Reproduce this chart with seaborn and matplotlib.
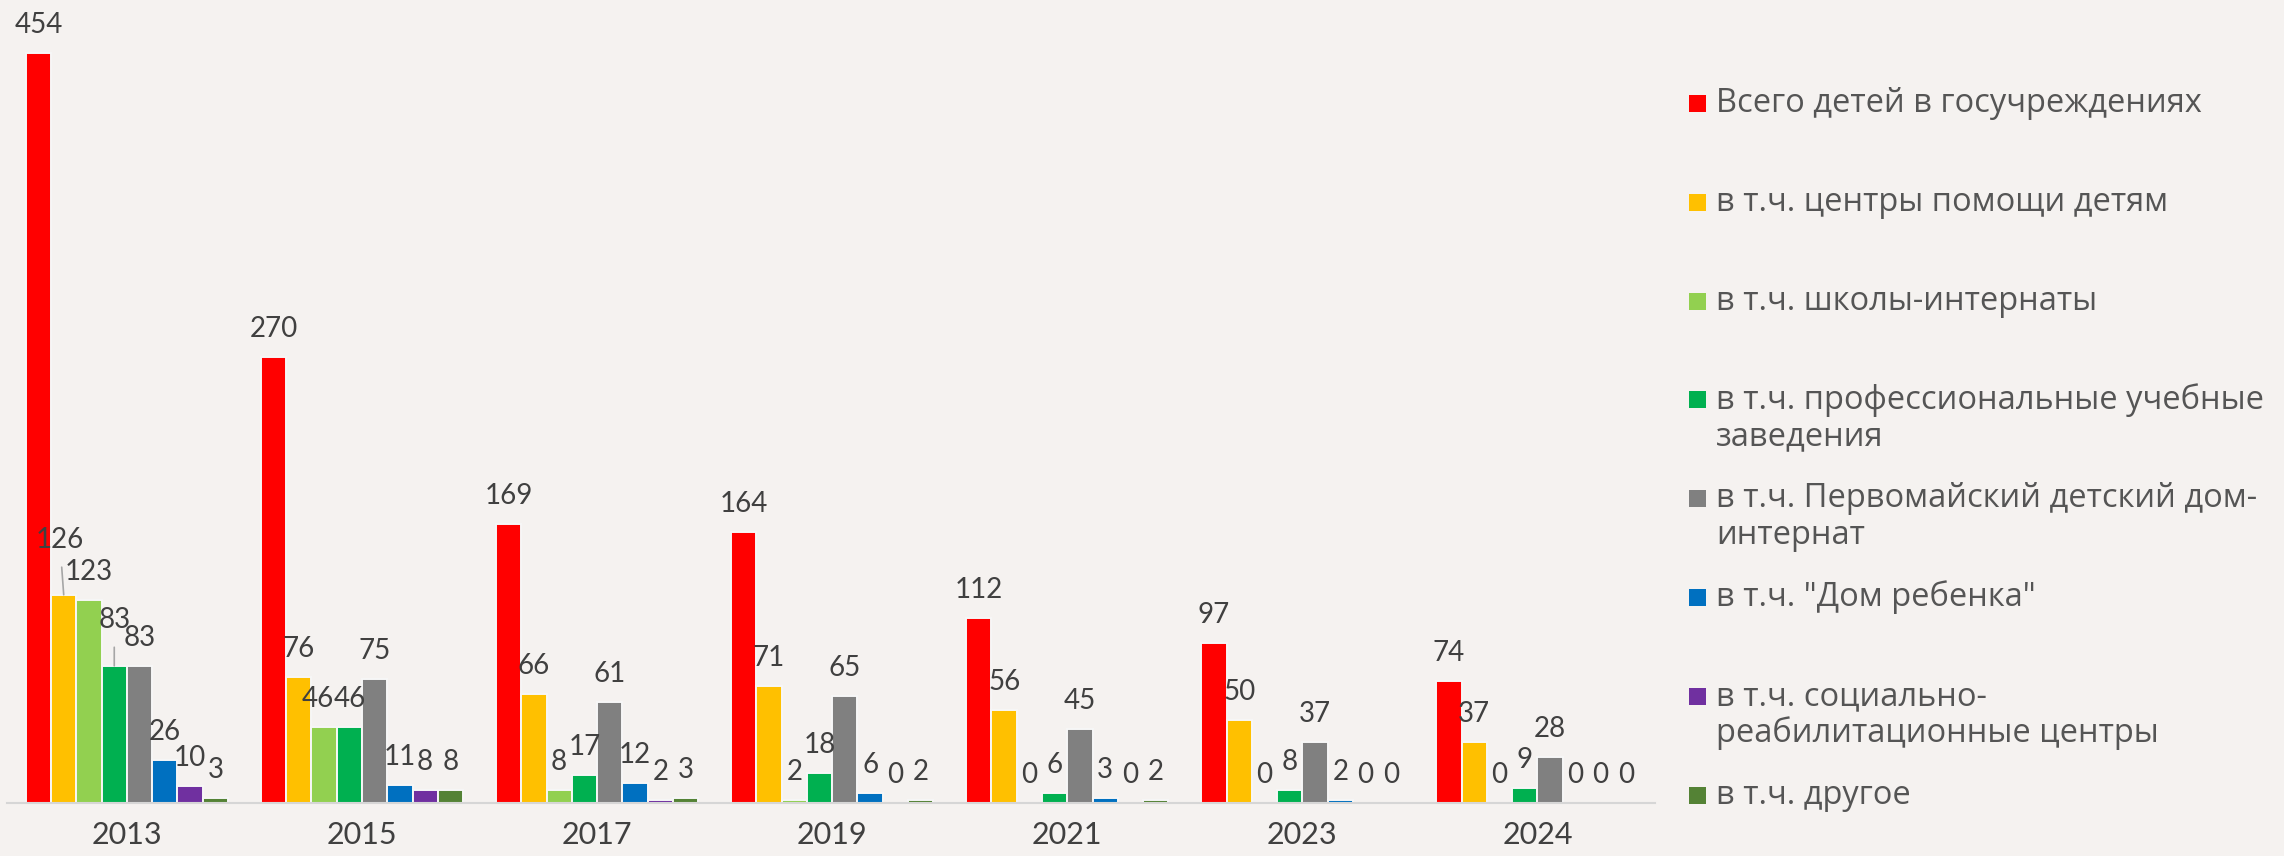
import pandas as pd
import matplotlib.pyplot as plt
import seaborn as sns
from matplotlib.patches import Rectangle

# data
years = ["2013", "2015", "2017", "2019", "2021", "2023", "2024"]
series = [
    "Всего детей в госучреждениях",
    "в т.ч. центры помощи детям",
    "в т.ч. школы-интернаты",
    "в т.ч. профессиональные учебные\nзаведения",
    "в т.ч. Первомайский детский дом-\nинтернат",
    "в т.ч. \"Дом ребенка\"",
    "в т.ч. социально-\nреабилитационные центры",
    "в т.ч. другое",
]
total = [454, 270, 169, 164, 112, 97, 74]
help_centers = [126, 76, 66, 71, 56, 50, 37]
boarding_schools = [123, 46, 8, 2, 0, 0, 0]
prof_schools = [83, 46, 17, 18, 6, 8, 9]
pervomaisky = [83, 75, 61, 65, 45, 37, 28]
baby_home = [26, 11, 12, 6, 3, 2, 0]
rehab_centers = [10, 8, 2, 0, 0, 0, 0]
other = [3, 8, 3, 2, 2, 0, 0]
values = [total, help_centers, boarding_schools, prof_schools,
          pervomaisky, baby_home, rehab_centers, other]

colors = ["#FF0000", "#FFC000", "#92D050", "#00B050",
          "#808080", "#0070C0", "#7030A0", "#548235"]

rows = []
for s, vals in zip(series, values):
    for y, v in zip(years, vals):
        rows.append({"year": y, "series": s, "value": v})
df = pd.DataFrame(rows)

# style
sns.set_style("white")
plt.rcParams["font.family"] = ["Lato", "DejaVu Sans"]
bg = "#f5f2f0"
txt = "#404040"

W, H = 2284, 856
fig = plt.figure(figsize=(W / 100, H / 100), dpi=100, facecolor=bg)
ax = fig.add_axes([7 / W, 53 / H, 1648 / W, 803 / H])
ax.set_facecolor("none")

sns.barplot(data=df, x="year", y="value", hue="series", hue_order=series,
            palette=colors, width=0.86, errorbar=None, legend=False,
            edgecolor="#f7f7f7", linewidth=1.4, saturation=1, ax=ax)

ax.set_xlim(-0.51, 6.50)
ax.set_ylim(0, 486)
ax.set_xlabel("")
ax.set_ylabel("")
ax.set_yticks([])
for side in ["top", "left", "right"]:
    ax.spines[side].set_visible(False)
ax.spines["bottom"].set_color("#d6d6d6")
ax.spines["bottom"].set_linewidth(1.5)
ax.tick_params(axis="x", length=0, pad=13, labelsize=22, labelcolor=txt)

# data labels (offsets in px where the original moved a label)
moved = {(1, 0): (-4, 27), (3, 0): (0, 18), (2, 1): (-6, 0)}
for i, cont in enumerate(ax.containers):
    for j, bar in enumerate(cont):
        x = bar.get_x() + bar.get_width() / 2
        h = values[i][j]
        dx, dy = moved.get((i, j), (0, 0))
        arrow = None
        if dy > 10:
            arrow = dict(arrowstyle="-", color="#a6a6a6", lw=1.2,
                         shrinkA=8, shrinkB=0)
        ax.annotate(str(h), xy=(x, h), xytext=(dx * 0.72, (28 + dy) * 0.72),
                    textcoords="offset points", ha="center", va="center",
                    fontsize=20, color=txt, arrowprops=arrow)

# legend on the right
for k, (s, c) in enumerate(zip(series, colors)):
    yc = 103.5 + 98.8 * k
    fig.add_artist(Rectangle((1689 / W, 1 - (yc + 8.5) / H), 17 / W, 17 / H,
                             transform=fig.transFigure, color=c, lw=0))
    for n, line in enumerate(s.split("\n")):
        fig.text(1716 / W, 1 - (yc + 37 * n) / H, line, ha="left",
                 va="center", fontsize=23.5,
                 family=["Open Sans", "DejaVu Sans"], color="#555555")

fig.savefig("out.png", dpi=100, facecolor=bg)
